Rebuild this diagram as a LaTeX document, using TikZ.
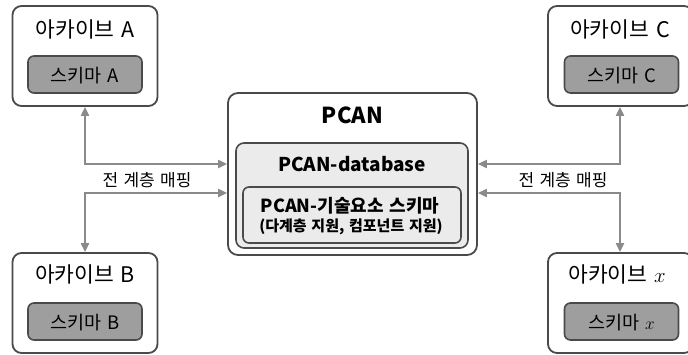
\documentclass[tikz,border=0pt]{standalone}
\usepackage{fontspec}
\setmainfont{Noto Sans CJK KR}[WordSpace=1.4]
\usetikzlibrary{
    arrows.meta,
    calc
}
\definecolor{boxline}{HTML}{4A4A4A}
\definecolor{schemafill}{HTML}{9E9E9E}
\definecolor{dbfill}{HTML}{EBEBEB}
\definecolor{linkgray}{HTML}{8A8A8A}

\begin{document}
\begin{tikzpicture}[x=1pt, y=-1pt,
    archive/.style={draw=boxline, line width=1.8pt, rounded corners=9pt, fill=white,
        minimum width=145pt, minimum height=100pt, inner sep=0pt},
    schema/.style={draw=boxline, line width=1.6pt, rounded corners=6pt, fill=schemafill,
        minimum width=114pt, minimum height=37pt, inner sep=0pt},
    title/.style={anchor=base, inner sep=0pt, font=\fontsize{21.5}{24}\selectfont},
    label/.style={anchor=base, inner sep=0pt, font=\fontsize{18.5}{22}\selectfont},
    panel/.style={draw=boxline, line width=1.6pt, fill=dbfill, inner sep=0pt},
    link/.style={draw=linkgray, line width=2pt,
        {Triangle[length=9pt,width=8pt]}-{Triangle[length=9pt,width=8pt]}},
    mapping/.style={anchor=base, inner sep=0pt, font=\fontsize{17}{20}\selectfont}
]
    \useasboundingbox (0,0) rectangle (688,354);
    % archives
    \node[archive] (archA) at (85,56) {};
    \node[schema] (schA) at (85,74.5) {};
    \node[title] (titA) at (85,37) {아카이브 A};
    \node[label] (labA) at (85,82) {스키마 A};
    \node[archive] (archB) at (85,303) {};
    \node[schema] (schB) at (85,321.5) {};
    \node[title] (titB) at (85,282) {아카이브 B};
    \node[label] (labB) at (85,329) {스키마 B};
    \node[archive] (archC) at (620.5,56) {};
    \node[schema] (schC) at (621.5,74.5) {};
    \node[title] (titC) at (620,37) {아카이브 C};
    \node[label] (labC) at (621.5,82) {스키마 C};
    \node[archive] (archX) at (620.5,303) {};
    \node[schema] (schX) at (621.5,321.5) {};
    \node[title] (titX) at (617,282) {아카이브 $x$};
    \node[label] (labX) at (621.5,329) {스키마 $x$};
    % PCAN
    \node[panel, fill=white, line width=1.8pt, rounded corners=10pt,
        minimum width=249pt, minimum height=162pt] (pcan) at (352.5,174) {};
    \node[panel, rounded corners=8pt, minimum width=232pt, minimum height=105pt] (db) at (352,195.5) {};
    \node[panel, rounded corners=6pt, minimum width=218pt, minimum height=56pt] (tech) at (352,215) {};
    \node[anchor=base, inner sep=0pt, font=\bfseries\fontsize{22}{26}\selectfont] (pcanT) at (352.5,123) {PCAN};
    \node[anchor=base, inner sep=0pt, font=\bfseries\fontsize{19}{22}\selectfont] (dbT) at (352,171) {PCAN-database};
    \node[anchor=base, inner sep=0pt, font=\bfseries\fontsize{18}{20}\selectfont] (techT) at (350,212) {PCAN-기술요소 스키마};
    \node[anchor=base, inner sep=0pt, font=\bfseries\fontsize{15}{17}\selectfont] (techS) at (351,231) {(다계층 지원, 컴포넌트 지원)};
    % mappings
    \coordinate (mapA) at (85,164);
    \coordinate (mapB) at (85,193);
    \coordinate (mapC) at (620,164);
    \coordinate (mapX) at (620,193);
    \draw[link] (archA.south) -- (mapA) -- (mapA -| pcan.west);
    \draw[link] (archB.north) -- (mapB) -- (mapB -| pcan.west);
    \draw[link] (archC.south -| mapC) -- (mapC) -- (mapC -| pcan.east);
    \draw[link] (archX.north -| mapX) -- (mapX) -- (mapX -| pcan.east);
    \node[mapping] (mapL) at (147,186) {전 계층 매핑};
    \node[mapping] (mapR) at (563,186) {전 계층 매핑};
\end{tikzpicture}
\end{document}
